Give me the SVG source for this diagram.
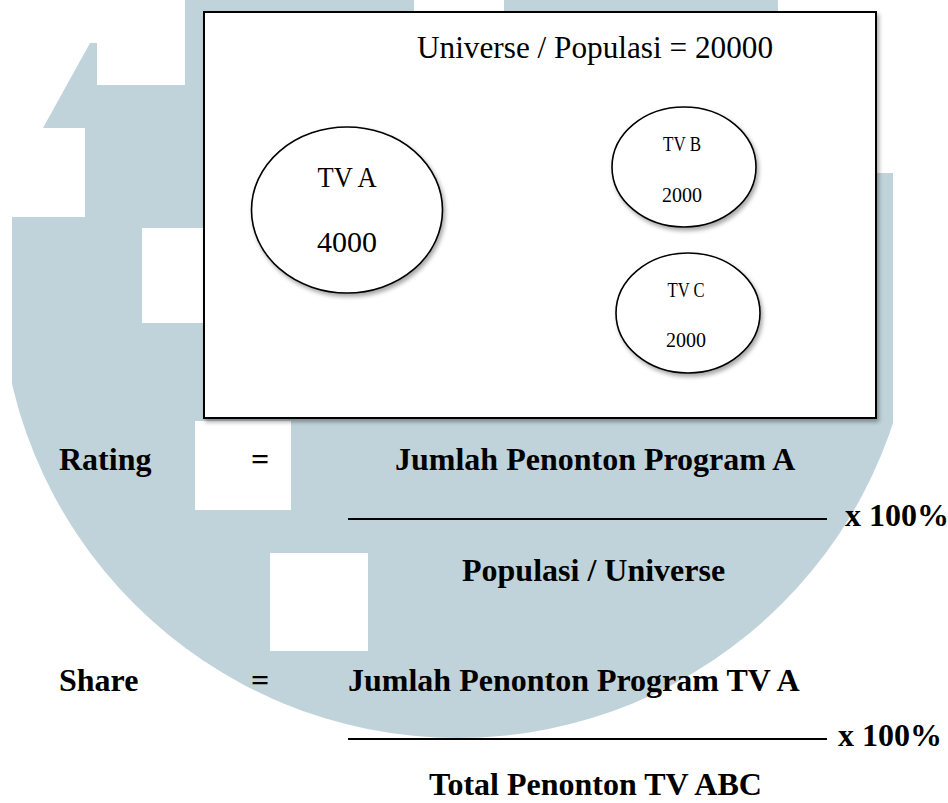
<svg xmlns="http://www.w3.org/2000/svg" width="948" height="803" viewBox="0 0 948 803">
  <style>
    .wm { fill: #c1d3da; }
    .cut { fill: #ffffff; }
    .box { fill: #ffffff; stroke: #000000; stroke-width: 2; }
    .ell { fill: #ffffff; stroke: #000000; stroke-width: 1.6; }
    .cam { font-family: "Liberation Serif", "DejaVu Serif", serif; fill: #000000; }
    .tnr { font-family: "Liberation Serif", "Times New Roman", serif; font-weight: bold; font-size: 32px; fill: #000000; }
    .rule { stroke: #000000; stroke-width: 2; }
  </style>
  <defs>
    <clipPath id="wmclip">
      <circle cx="458" cy="280" r="458"/>
    </clipPath>
    <filter id="shadow" x="-10%" y="-10%" width="125%" height="125%">
      <feDropShadow dx="2" dy="3" stdDeviation="2" flood-color="#000000" flood-opacity="0.35"/>
    </filter>
  </defs>
  <rect x="0" y="0" width="948" height="803" fill="#ffffff"/>
  <g id="watermark">
    <polygon class="wm" clip-path="url(#wmclip)" points="12,217 85,217 85,128 43,128 90,43 97,43 97,85 185,85 185,0 778,0 778,173 893,173 893,803 12,803"/>
    <rect class="cut" x="414" y="0" width="90" height="12"/>
    <rect class="cut" x="142" y="228" width="62" height="95"/>
    <rect class="cut" x="195" y="421" width="96" height="89"/>
    <rect class="cut" x="270" y="553" width="98" height="98"/>
  </g>
  <g id="universe">
    <rect class="box" x="204" y="12" width="672" height="406" filter="url(#shadow)"/>
    <text class="cam" x="417" y="58" font-size="31" textLength="356" lengthAdjust="spacingAndGlyphs">Universe / Populasi = 20000</text>
  </g>
  <g id="tv-a">
    <ellipse class="ell" cx="347" cy="210" rx="95.5" ry="83" filter="url(#shadow)"/>
    <text class="cam" x="347" y="187" font-size="30" text-anchor="middle" textLength="59" lengthAdjust="spacingAndGlyphs">TV A</text>
    <text class="cam" x="347" y="252" font-size="30" text-anchor="middle">4000</text>
  </g>
  <g id="tv-b">
    <ellipse class="ell" cx="684" cy="167" rx="72" ry="60" filter="url(#shadow)"/>
    <text class="cam" x="682" y="151" font-size="20" text-anchor="middle" textLength="38" lengthAdjust="spacingAndGlyphs">TV B</text>
    <text class="cam" x="682" y="202" font-size="20" text-anchor="middle">2000</text>
  </g>
  <g id="tv-c">
    <ellipse class="ell" cx="688" cy="313" rx="72" ry="60" filter="url(#shadow)"/>
    <text class="cam" x="686" y="297" font-size="20" text-anchor="middle" textLength="37" lengthAdjust="spacingAndGlyphs">TV C</text>
    <text class="cam" x="686" y="347" font-size="20" text-anchor="middle">2000</text>
  </g>
  <g id="connectors"/>
  <g id="rating-formula">
    <text class="tnr" x="59" y="470">Rating</text>
    <text class="tnr" x="251" y="470">=</text>
    <text class="tnr" x="395" y="470">Jumlah Penonton Program A</text>
    <line class="rule" x1="348" y1="519" x2="827" y2="519"/>
    <text class="tnr" x="845" y="526">x 100%</text>
    <text class="tnr" x="462" y="581">Populasi / Universe</text>
  </g>
  <g id="share-formula">
    <text class="tnr" x="59" y="691">Share</text>
    <text class="tnr" x="251" y="691">=</text>
    <text class="tnr" x="348" y="691">Jumlah Penonton Program TV A</text>
    <line class="rule" x1="348" y1="739" x2="827" y2="739"/>
    <text class="tnr" x="838" y="746">x 100%</text>
    <text class="tnr" x="429" y="795">Total Penonton TV ABC</text>
  </g>
</svg>
